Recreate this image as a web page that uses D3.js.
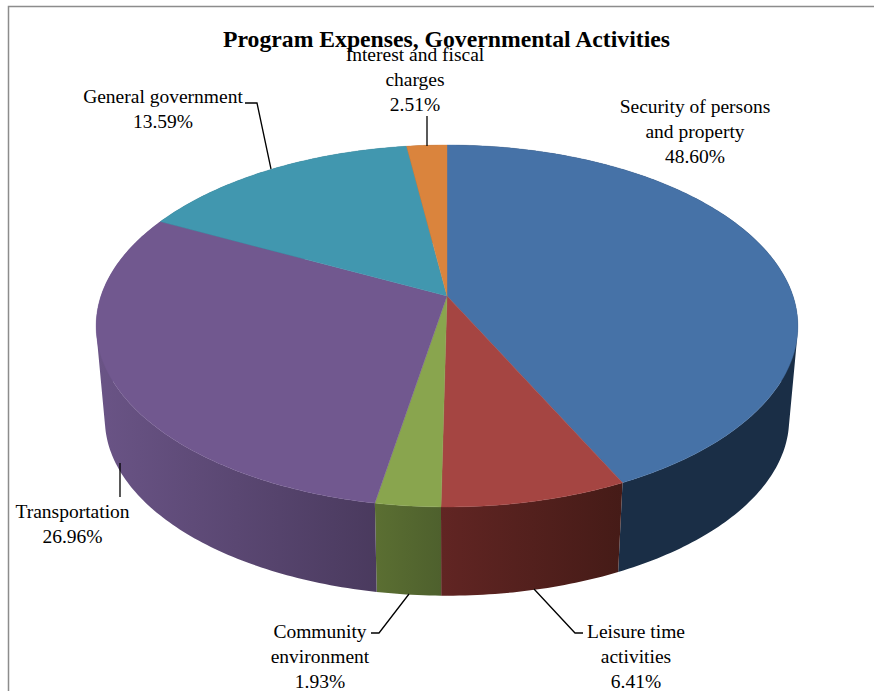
<!DOCTYPE html>
<html>
<head>
<meta charset="utf-8">
<style>
  body { margin: 0; background: #fff; }
  text { font-family: "Liberation Serif", serif; fill: #000; }
</style>
<script src="https://cdn.jsdelivr.net/npm/d3@7"></script>
</head>
<body>
<div id="chart"></div>
<script>
var categories = [
    ["Security of persons", "and property"],
    ["Leisure time", "activities"],
    ["Community", "environment"],
    ["Transportation"],
    ["General government"],
    ["Interest and fiscal", "charges"]
];
// printed on the labels
var shareLabels = ["48.60%", "6.41%", "1.93%", "26.96%", "13.59%", "2.51%"];
// slice sizes as drawn in the picture, they differ from the printed shares
var drawnShares = [42.9, 7.33, 2.56, 29.72, 15.32, 2.17];
var topColors = ["#4672a7", "#a54542", "#89a54e", "#71588f", "#4197af", "#da843d"];
// wall shade at the left and right end of each slice
var wallLeft = ["#1a2e46", "#612523", "#5b6f32", "#6a5486", "#2b6374", "#8f5526"];
var wallRight = ["#1a2e46", "#451b17", "#4e602d", "#4a3a5e", "#2b6374", "#8f5526"];

// label placement: centre x, first baseline, leader polyline
var labelX = [695, 636, 320, 72.5, 163, 415];
var labelY = [113, 638, 638, 518, 103, 61];
var leaders = [
    null,
    [[583, 633], [575, 633], [534, 589]],
    [[371, 633], [379, 633], [409, 594]],
    [[120, 463], [120, 497]],
    [[245, 103], [257, 103], [271, 169]],
    [[427, 116], [427, 146]]
];

var width = 874,
    height = 691;

var svg = d3.select("#chart").append("svg")
    .attr("width", width)
    .attr("height", height)
    .style("display", "block");

// chart frame, only top and left are in view
svg.append("path")
    .attr("d", "M8.5," + height + "V6.5H" + width)
    .attr("fill", "none")
    .attr("stroke", "#8c8c8c")
    .attr("stroke-width", 1.5);

// perspective of the disc
var tilt = 0.1657;
var x = d3.scaleLinear().domain([-1, 1]).range([101, 793]);
var yTop = d3.scaleLinear().domain([-1, 1]).range([472, 120]);
var yBottom = d3.scaleLinear().domain([-1, 1]).range([561.6, 218.4]);
var xBottom = d3.scaleLinear().domain([-1, 1]).range([109.6, 784.4]);

function rim(angle, sx, sy) {
    var u = Math.sin(angle),
        v = Math.cos(angle),
        w = 1 + tilt * v;
    return [sx(u / w), sy(v / w)];
}

var line = d3.line();

function arcAngles(a0, a1) {
    var n = Math.max(2, Math.ceil((a1 - a0) / 0.015));
    return d3.range(n + 1).map(function(i) {
        return a0 + (a1 - a0) * i / n;
    });
}

var pie = d3.pie().sort(null);
var slices = pie(drawnShares);

var defs = svg.append("defs");

// side wall, every slice is one path made of small quads with the same winding
var walls = slices.map(function(d) {
    var quads = d3.pairs(arcAngles(d.startAngle, d.endAngle)).map(function(p) {
        var quad = [
            rim(p[0], x, yTop),
            rim(p[1], x, yTop),
            rim(p[1], xBottom, yBottom),
            rim(p[0], xBottom, yBottom)
        ];
        return d3.polygonArea(quad) < 0 ? quad.reverse() : quad;
    });
    var xs = quads.flat().map(function(q) { return q[0]; });
    return {
        index: d.index,
        x0: d3.min(xs),
        x1: d3.max(xs),
        d: quads.map(function(q) { return line(q) + "Z"; }).join("")
    };
});

var gradients = defs.selectAll("linearGradient")
    .data(walls)
    .join("linearGradient")
    .attr("id", function(d) { return "wall" + d.index; })
    .attr("gradientUnits", "userSpaceOnUse")
    .attr("x1", function(d) { return d.x0; })
    .attr("x2", function(d) { return d.x1; })
    .attr("y1", 0)
    .attr("y2", 0);

gradients.append("stop")
    .attr("offset", 0)
    .attr("stop-color", function(d) { return wallLeft[d.index]; });
gradients.append("stop")
    .attr("offset", 1)
    .attr("stop-color", function(d) { return wallRight[d.index]; });

svg.append("g").selectAll("path")
    .data(walls)
    .join("path")
    .attr("d", function(d) { return d.d; })
    .attr("fill", function(d) { return "url(#wall" + d.index + ")"; });

// top face
svg.append("g").selectAll("path")
    .data(slices)
    .join("path")
    .attr("d", function(d) {
        var pts = arcAngles(d.startAngle, d.endAngle).map(function(a) {
            return rim(a, x, yTop);
        });
        pts.unshift([x(0), yTop(0)]);
        return line(pts) + "Z";
    })
    .attr("fill", function(d) { return topColors[d.index]; })
    .attr("stroke", function(d) { return topColors[d.index]; })
    .attr("stroke-width", 0.4);

// leader lines
svg.append("g").selectAll("path")
    .data(leaders.filter(Boolean))
    .join("path")
    .attr("d", line)
    .attr("fill", "none")
    .attr("stroke", "#000")
    .attr("stroke-width", 1.3);

// labels
var labels = svg.append("g").selectAll("text")
    .data(categories)
    .join("text")
    .attr("text-anchor", "middle")
    .attr("font-size", 19.5);

labels.selectAll("tspan")
    .data(function(d, i) {
        return d.concat(shareLabels[i]).map(function(t) {
            return { text: t, index: i };
        });
    })
    .join("tspan")
    .attr("x", function(d) { return labelX[d.index]; })
    .attr("y", function(d, j) { return labelY[d.index] + j * 25; })
    .text(function(d) { return d.text; });

svg.append("text")
    .attr("x", 446.5)
    .attr("y", 47)
    .attr("text-anchor", "middle")
    .attr("font-size", 23.7)
    .attr("font-weight", "bold")
    .text("Program Expenses, Governmental Activities");
</script>
</body>
</html>
